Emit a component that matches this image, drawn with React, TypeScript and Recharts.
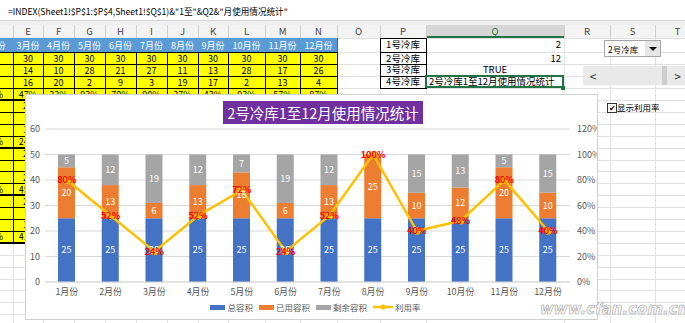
import React from 'react';
import { ComposedChart, Bar, Line, XAxis, YAxis, CartesianGrid, LabelList, Legend } from 'recharts';

// chart data (2号冷库)
const months = ['1月份', '2月份', '3月份', '4月份', '5月份', '6月份', '7月份', '8月份', '9月份', '10月份', '11月份', '12月份'];
const totalCap = [25, 25, 25, 25, 25, 25, 25, 25, 25, 25, 25, 25];
const usedCap = [20, 13, 6, 13, 18, 6, 13, 25, 10, 12, 20, 10];
const remainCap = [5, 12, 19, 12, 7, 19, 12, 0, 15, 13, 5, 15];
const useRate = [0.8, 0.52, 0.24, 0.52, 0.72, 0.24, 0.52, 1, 0.4, 0.48, 0.8, 0.4];
const leftTicks = [0, 10, 20, 30, 40, 50, 60];
const rightTicks = [0, 0.2, 0.4, 0.6, 0.8, 1, 1.2];
const legendOrder = ['总容积', '已用容积', '剩余容积', '利用率'];

// spreadsheet behind the chart
const colLetters = ['D', 'E', 'F', 'G', 'H', 'I', 'J', 'K', 'L', 'M', 'N', 'O', 'P', 'Q', 'R', 'S', 'T'];
const colEdges = [-25, 13, 43, 74, 105, 136, 167, 198, 228, 265, 300, 337, 380, 426, 564, 610, 655, 700];
const sheetMonths = ['2月份', '3月份', '4月份', '5月份', '6月份', '7月份', '8月份', '9月份', '10月份', '11月份', '12月份'];
const sheetTotal = ['30', '30', '30', '30', '30', '30', '30', '30', '30', '30', '30'];
const sheetUsed = ['19', '14', '10', '28', '21', '27', '11', '13', '28', '17', '26'];
const sheetRemain = ['11', '16', '20', '2', '9', '3', '19', '17', '2', '13', '4'];
const sheetRate = ['63%', '47%', '33%', '93%', '70%', '90%', '37%', '43%', '93%', '57%', '87%'];
const stripD = ['25', '13', '12', '52%', '20', '8', '12', '40%', '25', '10', '15', '40%'];
const stripE = ['25', '6', '19', '24%', '20', '9', '21', '45%', '25', '9', '16', '41%'];
const storeNames = ['1号冷库', '2号冷库', '3号冷库', '4号冷库'];
const qValues = ['2', '12', 'TRUE', '2号冷库1至12月使用情况统计'];

const FONT = '"Noto Sans CJK SC", "Noto Sans", sans-serif';
const ROW_H = 11.9;
const rowTop = (r: number) => (r === 1 ? 38 : 52.4 + (r - 2) * ROW_H);

const box = (key: string, x: number, y: number, w: number, h: number, bg: string) => (
  <div key={key} style={{ position: 'absolute', left: x, top: y, width: w, height: h, background: bg }} />
);

const txt = (
  key: string, x0: number, x1: number, y0: number, y1: number, s: string,
  align: 'center' | 'flex-start' | 'flex-end' = 'center', color = '#000', size = 9
) => (
  <div key={key} style={{
    position: 'absolute', left: x0, top: y0, width: x1 - x0, height: y1 - y0, display: 'flex',
    alignItems: 'center', justifyContent: align, fontSize: size, color, whiteSpace: 'nowrap',
    padding: '0 3px', boxSizing: 'border-box', lineHeight: 1,
  }}>{s}</div>
);

function Sheet() {
  const els: React.ReactNode[] = [];
  // formula bar + header strip
  els.push(box('fb', 0, 0, 685, 20, '#fff'));
  els.push(box('fbl', 0, 20, 685, 1, '#d4d4d4'));
  els.push(box('gap', 0, 21, 685, 4, '#f0f0f0'));
  els.push(box('ch', 0, 25, 685, 13, '#f3f3f3'));
  els.push(box('ch2', 426, 25, 138, 13, '#d6d6d6'));
  els.push(box('chq', 426, 36, 138, 2, '#217346'));
  els.push(txt('formula', 5, 400, 2, 20, '=INDEX(Sheet1!$P$1:$P$4,Sheet1!$Q$1)&"1至"&Q2&"月使用情况统计"', 'flex-start', '#000', 8.6));
  colLetters.forEach((c, i) => {
    els.push(txt('cl' + c, colEdges[i], colEdges[i + 1], 25, 38, c, 'center', c === 'Q' ? '#217346' : '#444', 9.5));
    els.push(box('cv' + c, colEdges[i + 1], 25, 1, 13, '#d0d0d0'));
  });
  // light gridlines
  for (let r = 1; r <= 26; r++) els.push(box('gh' + r, 0, rowTop(r), 685, 1, '#e1e1e1'));
  colEdges.forEach((x, i) => els.push(box('gv' + i, x, 38, 1, 285, '#e1e1e1')));

  // blue month header
  sheetMonths.forEach((m, i) => {
    els.push(box('bh' + i, colEdges[i], rowTop(1), colEdges[i + 1] - colEdges[i], rowTop(2) - rowTop(1), '#5b9bd5'));
    els.push(box('bhv' + i, colEdges[i + 1], rowTop(1), 1, rowTop(2) - rowTop(1), '#2f6ea8'));
    els.push(txt('bt' + i, colEdges[i], colEdges[i + 1], rowTop(1), rowTop(2), m, 'center', '#fff', 9));
  });
  // yellow table
  els.push(box('yel', -25, rowTop(2), 362, rowTop(18) - rowTop(2), '#ffff00'));
  for (let r = 2; r <= 18; r++) {
    const thick = (r - 2) % 4 === 0 && r > 2;
    els.push(box('yh' + r, -25, rowTop(r) - (thick ? 1 : 0), 362, thick ? 2 : 1, '#000'));
  }
  for (let i = 0; i <= 11; i++) els.push(box('yv' + i, colEdges[i], rowTop(2), 1, rowTop(18) - rowTop(2), '#000'));
  const group1 = [sheetTotal, sheetUsed, sheetRemain, sheetRate];
  group1.forEach((row, ri) => row.forEach((v, ci) => {
    els.push(txt(`g1-${ri}-${ci}`, colEdges[ci], colEdges[ci + 1], rowTop(ri + 2), rowTop(ri + 3), v));
  }));
  stripD.forEach((v, k) => els.push(txt('sd' + k, colEdges[0], colEdges[1], rowTop(k + 6), rowTop(k + 7), v)));
  stripE.forEach((v, k) => els.push(txt('se' + k, colEdges[1], colEdges[2], rowTop(k + 6), rowTop(k + 7), v)));

  // P / Q cells
  storeNames.forEach((s, k) => {
    const y0 = rowTop(k + 1);
    const y1 = rowTop(k + 2);
    els.push(box('pc' + k, 380, y0, 46, y1 - y0, '#fff'));
    els.push(box('pt' + k, 380, y0, 47, 1, '#000'));
    els.push(box('pl' + k, 380, y0, 1, y1 - y0, '#000'));
    els.push(box('pr' + k, 426, y0, 1, y1 - y0, '#000'));
    els.push(txt('ptx' + k, 380, 426, y0, y1, s, 'center', '#000', 9.5));
    const al = k < 2 ? 'flex-end' : k === 2 ? 'center' : 'flex-start';
    els.push(txt('qtx' + k, 426, 564, y0, y1, qValues[k], al as any, '#000', 9.5));
  });
  els.push(box('pb', 380, rowTop(5), 47, 1, '#000'));
  // selected Q4
  els.push(<div key="sel" style={{ position: 'absolute', left: 425, top: rowTop(4) - 1, width: 139, height: rowTop(5) - rowTop(4) + 1, border: '2px solid #217346', boxSizing: 'border-box' }} />);
  els.push(box('selh', 561, rowTop(5) - 2, 4, 4, '#217346'));

  // form controls
  els.push(<div key="dd" style={{ position: 'absolute', left: 604, top: 40, width: 57, height: 17, border: '1px solid #a6a6a6', background: '#fff', boxSizing: 'border-box' }}>
    <div style={{ position: 'absolute', left: 3, top: 0, height: 15, display: 'flex', alignItems: 'center', fontSize: 8.5 }}>2号冷库</div>
    <div style={{ position: 'absolute', right: 0, top: 0, width: 15, height: 15, background: '#e6e6e6', display: 'flex', alignItems: 'center', justifyContent: 'center' }}>
      <div style={{ width: 0, height: 0, borderLeft: '4px solid transparent', borderRight: '4px solid transparent', borderTop: '4px solid #000' }} />
    </div>
  </div>);
  els.push(box('sb', 583, 66, 102, 19, '#e9e9e9'));
  els.push(box('sbt', 662, 66, 5, 19, '#cdcdcd'));
  els.push(txt('sbl', 586, 600, 66, 85, '<', 'center', '#333', 12));
  els.push(txt('sbr', 670, 685, 66, 85, '>', 'center', '#333', 12));
  els.push(<div key="cb" style={{ position: 'absolute', left: 607, top: 103, width: 8, height: 8, border: '1px solid #333', background: '#fff', fontSize: 8, lineHeight: '8px', textAlign: 'center' }}>✔</div>);
  els.push(txt('cbt', 614, 680, 101, 114, '显示利用率', 'flex-start', '#000', 8.5));
  return <>{els}</>;
}

const chartData = months.map((m, i) => ({
  month: m, total: totalCap[i], used: usedCap[i], remain: remainCap[i], rate: useRate[i],
}));

const pct = (v: any) => Math.round(Number(v) * 100) + '%';

const renderLegend = (props: any) => {
  const items = [...(props.payload || [])].sort(
    (a: any, b: any) => legendOrder.indexOf(a.value) - legendOrder.indexOf(b.value)
  );
  return (
    <div style={{ display: 'flex', justifyContent: 'center', alignItems: 'center', fontSize: 8.5, color: '#595959', fontFamily: FONT, paddingLeft: 8 }}>
      {items.map((it: any) => (
        <div key={it.value} style={{ display: 'flex', alignItems: 'center', margin: '0 3px' }}>
          {it.type === 'line' ? (
            <svg width={20} height={8}>
              <line x1={0} y1={4} x2={20} y2={4} stroke={it.color} strokeWidth={2.5} />
              <circle cx={10} cy={4} r={2.5} fill={it.color} />
            </svg>
          ) : (
            <div style={{ width: 15, height: 5, background: it.color }} />
          )}
          <span style={{ marginLeft: 2 }}>{it.value}</span>
        </div>
      ))}
    </div>
  );
};

export default function App() {
  const axisTick = { fontSize: 9, fill: '#595959', fontFamily: FONT };
  return (
    <div style={{ position: 'fixed', left: 0, top: 0, width: 685, height: 323, overflow: 'hidden', background: '#fff', fontFamily: FONT }}>
      <Sheet />
      <div style={{ position: 'absolute', left: 25, top: 94, width: 573, height: 226, background: '#fff' }}>
        <ComposedChart width={573} height={226} data={chartData} margin={{ top: 35, right: 0, bottom: 8, left: 0 }}>
          <CartesianGrid yAxisId="l" vertical={false} stroke="#d9d9d9" />
          <XAxis dataKey="month" interval={0} tickLine={false} axisLine={{ stroke: '#d9d9d9' }} tickMargin={1} tick={axisTick} />
          <YAxis yAxisId="l" domain={[0, 60]} ticks={leftTicks} width={20} axisLine={false} tickLine={false} tickSize={3} tickMargin={2} tick={axisTick} />
          <YAxis yAxisId="r" orientation="right" domain={[0, 1.2]} ticks={rightTicks} tickFormatter={pct} width={28} axisLine={false} tickLine={false} tickSize={5} tickMargin={2} tick={axisTick} />
          <Bar yAxisId="l" dataKey="total" name="总容积" stackId="s" fill="#4472c4" barSize={17} isAnimationActive={false}>
            <LabelList dataKey="total" position="center" fill="#fff" fontSize={9} />
          </Bar>
          <Bar yAxisId="l" dataKey="used" name="已用容积" stackId="s" fill="#ed7d31" barSize={17} isAnimationActive={false}>
            <LabelList dataKey="used" position="center" fill="#fff" fontSize={9} />
          </Bar>
          <Bar yAxisId="l" dataKey="remain" name="剩余容积" stackId="s" fill="#a5a5a5" barSize={17} isAnimationActive={false}>
            <LabelList dataKey="remain" position="center" fill="#fff" fontSize={9} formatter={(v: any) => (Number(v) === 0 ? '' : v)} />
          </Bar>
          <Line yAxisId="r" dataKey="rate" name="利用率" type="linear" stroke="#ffc000" strokeWidth={2.5}
            dot={{ r: 2.5, fill: '#ffc000', stroke: '#ffc000' }} isAnimationActive={false}>
            <LabelList dataKey="rate" position="center" fill="#ff0000" fontSize={9} fontWeight="bold" formatter={pct} />
          </Line>
          <Legend content={renderLegend} verticalAlign="middle" wrapperStyle={{ top: 207, left: 0, width: 573, height: 14 }} />
        </ComposedChart>
        <div style={{ position: 'absolute', left: 198, top: 7, width: 200, height: 23, background: '#7030a0', color: '#fff', fontSize: 14.5, display: 'flex', alignItems: 'center', justifyContent: 'center', whiteSpace: 'nowrap' }}>
          2号冷库1至12月使用情况统计
        </div>
        <div style={{ position: 'absolute', inset: 0, border: '1px solid #d0d0d0', pointerEvents: 'none' }} />
      </div>
      <div style={{ position: 'absolute', left: 540, top: 300, fontFamily: '"DejaVu Sans", sans-serif', fontSize: 15, fontWeight: 'bold', fontStyle: 'italic', color: '#f6f6f6', WebkitTextStroke: '0.6px #a8a8a8', whiteSpace: 'nowrap' }}>
        www.cfan.com.cn
      </div>
    </div>
  );
}
